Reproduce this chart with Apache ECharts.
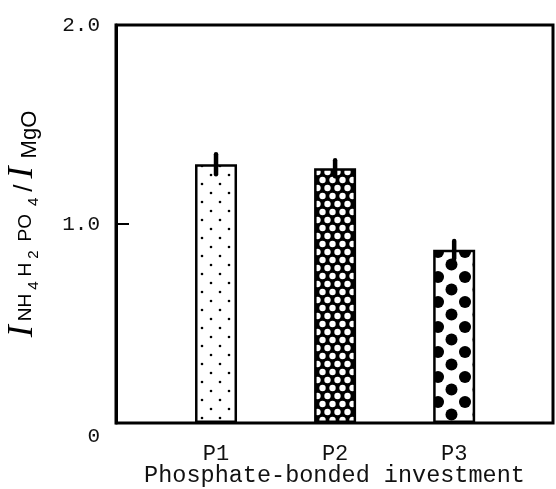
<!DOCTYPE html>
<html>
<head>
<meta charset="utf-8">
<script src="https://cdn.jsdelivr.net/npm/echarts@6/dist/echarts.min.js"></script>
<style>
  html, body { margin: 0; background: #fff; }
  #chart { width: 556px; height: 489px; }
</style>
</head>
<body>
<div id="chart"></div>
<script>
// data
const categories = ["P1", "P2", "P3"];
const positions = [1, 2, 3];
const values = [1.30, 1.28, 0.87];
const errors = [0.05, 0.04, 0.045];

// fill patterns for the three bars
function makePattern(kind) {
  const c = document.createElement("canvas");
  let w, h;
  if (kind === 0) { w = 18; h = 18; }
  else if (kind === 1) { w = 10; h = 16; }
  else { w = 27; h = 25; }
  c.width = w; c.height = h;
  const ctx = c.getContext("2d");
  let bg = "#fff", fg = "#000", r, pts;
  if (kind === 0) {
    r = 1.3; pts = [[4, 4], [13, 13]];
  } else if (kind === 1) {
    bg = "#000"; fg = "#fff"; r = 3.2; pts = [[2.5, 4], [7.5, 12]];
  } else {
    r = 6; pts = [[6, 2], [19.5, 14.5]];
  }
  ctx.fillStyle = bg;
  ctx.fillRect(0, 0, w, h);
  ctx.fillStyle = fg;
  pts.forEach(function (p) {
    for (let dx = -1; dx <= 1; dx++) {
      for (let dy = -1; dy <= 1; dy++) {
        ctx.beginPath();
        ctx.arc(p[0] + dx * w, p[1] + dy * h, r, 0, Math.PI * 2);
        ctx.fill();
      }
    }
  });
  return { image: c, repeat: "repeat" };
}

const myChart = echarts.init(document.getElementById("chart"), null, { renderer: "canvas" });

myChart.setOption({
  backgroundColor: "#fff",
  animation: false,
  grid: {
    left: 116,
    right: 3,
    top: 25,
    bottom: 66,
    outerBoundsMode: "none",
    containLabel: false,
    show: true,
    borderColor: "#000",
    borderWidth: 3,
  },
  xAxis: {
    type: "value",
    min: 0.16,
    max: 3.83,
    splitLine: { show: false },
    axisLine: { show: false },
    axisTick: { show: false },
    axisLabel: {
      customValues: positions,
      formatter: function (v) {
        return categories[positions.indexOf(v)];
      },
      margin: 20,
      fontFamily: "Liberation Mono",
      fontSize: 22,
      color: "#111",
    },
    name: "Phosphate-bonded investment",
    nameLocation: "middle",
    nameGap: 41,
    nameMoveOverlap: false,
    nameTextStyle: {
      fontFamily: "Liberation Mono",
      fontSize: 23.5,
      color: "#111",
    },
  },
  yAxis: {
    type: "value",
    min: 0,
    max: 2,
    interval: 1,
    // short inward ticks: a dashed split line whose first dash starts at the left frame
    splitLine: {
      show: true,
      lineStyle: { color: "#000", width: 2, type: [13, 2000] },
    },
    axisLine: { show: true, lineStyle: { color: "#000", width: 3 } },
    axisTick: { show: false },
    axisLabel: {
      margin: 16,
      fontFamily: "Liberation Mono",
      fontSize: 21,
      color: "#111",
      formatter: function (v) {
        return v === 0 ? "{z|0}" : v.toFixed(1);
      },
      rich: {
        z: { fontFamily: "Liberation Mono", fontSize: 21, color: "#111", padding: [26, 0, 0, 0] },
      },
    },
    name: "{I|I}{s|NH}{d|4}{s|H}{d2|2}{s|PO}{d3|4}{sl|/}{I2|I}{m|MgO}",
    nameLocation: "middle",
    nameRotate: 90,
    nameGap: 71,
    nameMoveOverlap: false,
    nameTextStyle: {
      color: "#000",
      rich: {
        I: { fontFamily: "Liberation Serif", fontStyle: "italic", fontSize: 36, lineHeight: 36, verticalAlign: "bottom", padding: [0, 4, 4, 0] },
        I2: { fontFamily: "Liberation Serif", fontStyle: "italic", fontSize: 36, lineHeight: 36, verticalAlign: "bottom", padding: [0, 8, 4, 0] },
        s: { fontFamily: "Liberation Sans", fontSize: 19, lineHeight: 19, verticalAlign: "bottom", padding: [0, 0, 10, 0] },
        d: { fontFamily: "Liberation Sans", fontSize: 15, lineHeight: 15, verticalAlign: "bottom", padding: [0, 5, 4, 4] },
        d2: { fontFamily: "Liberation Sans", fontSize: 15, lineHeight: 15, verticalAlign: "bottom", padding: [0, 9, 4, 4] },
        d3: { fontFamily: "Liberation Sans", fontSize: 15, lineHeight: 15, verticalAlign: "bottom", padding: [0, 3, 4, 8] },
        sl: { fontFamily: "Liberation Sans", fontSize: 26, lineHeight: 26, verticalAlign: "bottom", padding: [0, 6, 7, 3] },
        m: { fontFamily: "Liberation Sans", fontSize: 22, lineHeight: 22, verticalAlign: "bottom", padding: [0, 0, 4, 0] },
      },
    },
  },
  series: [
    {
      type: "bar",
      barWidth: 42,
      data: positions.map(function (p, i) {
        return {
          value: [p, values[i]],
          itemStyle: { color: makePattern(i) },
        };
      }),
      itemStyle: {
        borderColor: "#000",
        borderWidth: 2.5,
      },
      z: 2,
    },
    {
      type: "custom",
      z: 3,
      data: positions.map(function (p, i) {
        return [p, values[i], errors[i]];
      }),
      renderItem: function (params, api) {
        const x = api.value(0);
        const v = api.value(1);
        const e = api.value(2);
        const hi = api.coord([x, v + e]);
        const lo = api.coord([x, v - e]);
        return {
          type: "line",
          shape: { x1: hi[0], y1: hi[1], x2: lo[0], y2: lo[1] },
          style: { stroke: "#000", lineWidth: 4.5, lineCap: "round" },
        };
      },
    },
  ],
});

window.addEventListener("resize", function () {
  myChart.resize();
});
</script>
</body>
</html>
